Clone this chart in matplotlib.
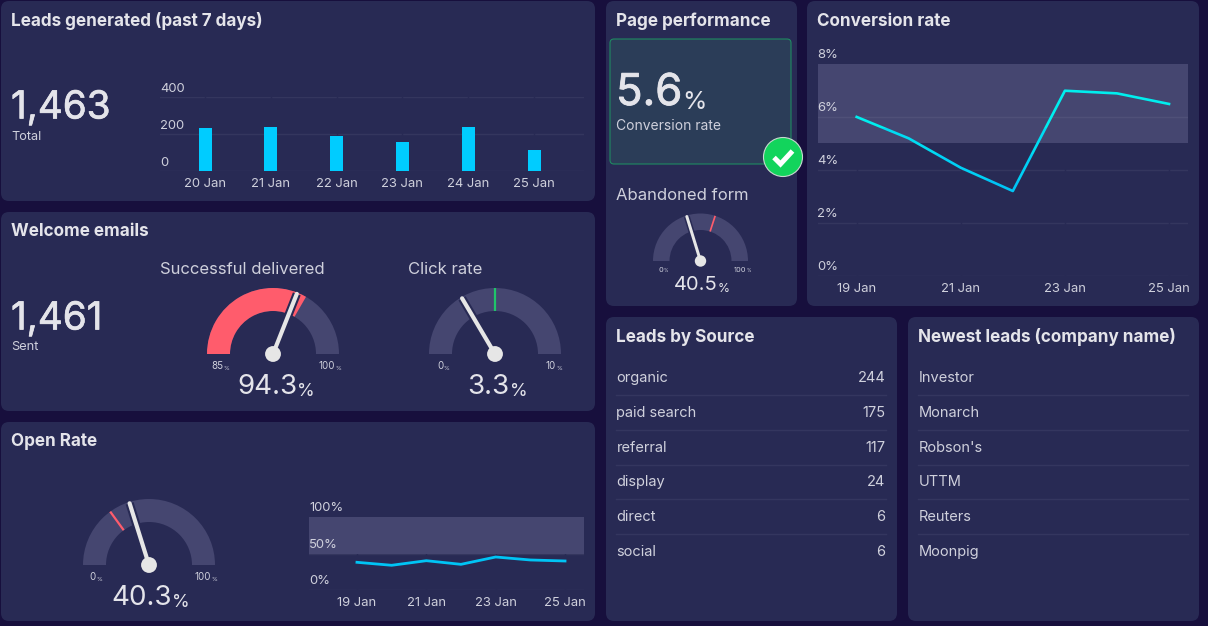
import numpy as np
import matplotlib
matplotlib.use("Agg")
import matplotlib.pyplot as plt
import matplotlib.patheffects as pe
from matplotlib.patches import FancyBboxPatch, Wedge, Circle, Rectangle

W, H = 1208, 626

BG = "#170f3d"
PANEL = "#282a54"
TRACK = "#454670"
TEXT = "#e4e4ea"
SOFT = "#cfd0dc"
RED = "#ff5c6c"
GREEN = "#1fc46a"
CYAN = "#00ccff"

plt.rcParams["font.family"] = ["Inter", "DejaVu Sans"]

leads_days = ["20 Jan", "21 Jan", "22 Jan", "23 Jan", "24 Jan", "25 Jan"]
leads_counts = [231, 236, 191, 155, 240, 115]
leads_ticks = [0, 200, 400]

rate_days = ["19 Jan", "20 Jan", "21 Jan", "22 Jan", "23 Jan", "24 Jan", "25 Jan"]
conversion_rate = [6.0, 5.19, 4.08, 3.2, 6.99, 6.89, 6.49]
conversion_ticks = [0, 2, 4, 6, 8]
conversion_band = (5, 8)

open_rate = [38.1, 34.0, 40.3, 35.3, 45.4, 41.3, 39.9]
open_ticks = [0, 50, 100]
open_band = (50, 100)

source_names = ["organic", "paid search", "referral", "display", "direct", "social"]
source_counts = [244, 175, 117, 24, 6, 6]
newest_leads = ["Investor", "Monarch", "Robson's", "UTTM", "Reuters", "Moonpig"]

fig = plt.figure(figsize=(W / 100, H / 100), dpi=100, facecolor=BG)

# whole-figure axes in pixel units, y pointing down
canvas = fig.add_axes([0, 0, 1, 1])
canvas.set_xlim(0, W)
canvas.set_ylim(H, 0)
canvas.axis("off")


def panel(x0, y0, x1, y1, title):
    canvas.add_patch(FancyBboxPatch((x0 + 8, y0 + 8), x1 - x0 - 16, y1 - y0 - 16,
                                    boxstyle="round,pad=8", fc=PANEL, ec="none", zorder=1))
    canvas.text(x0 + 10, y0 + 20, title, color=TEXT, fontsize=12.3, fontweight="bold",
                va="center", ha="left", zorder=5)


def big_number(x, y, value, size, unit=None, unit_size=None, gap=0, ha="left", stroke=0):
    t = canvas.text(x, y, value, color=TEXT, fontsize=size, va="center", ha=ha, zorder=5)
    if stroke:
        t.set_path_effects([pe.withStroke(linewidth=stroke, foreground=TEXT)])
    if unit:
        canvas.annotate(unit, xy=(1, 0), xycoords=t, xytext=(gap, 0), textcoords="offset pixels",
                        color=TEXT, fontsize=unit_size, va="bottom", ha="left", zorder=5)


def gauge(cx, cy, outer, inner, value, low, high, fill=None, mark=None, mark_color=None):
    def angle(v):
        return 180 - 180 * (v - low) / (high - low)

    # y axis is inverted, so the wedge angles are mirrored
    def arc(v0, v1, color):
        canvas.add_patch(Wedge((cx, cy), outer, -angle(v0), -angle(v1), width=outer - inner,
                               fc=color, ec="none", zorder=2))

    arc(low, high, TRACK)
    if fill is not None:
        arc(low, fill, RED)
    if mark is not None:
        a = np.radians(angle(mark))
        canvas.plot([cx + inner * np.cos(a), cx + outer * np.cos(a)],
                    [cy - inner * np.sin(a), cy - outer * np.sin(a)],
                    color=mark_color, lw=1.4 * outer / 66 + 0.2, zorder=3, solid_capstyle="butt")
    a = np.radians(angle(value))
    tip = (cx + outer * 0.98 * np.cos(a), cy - outer * 0.98 * np.sin(a))
    scale = outer / 66
    canvas.plot([cx, tip[0]], [cy, tip[1]], color=PANEL, lw=6 * scale, zorder=4, solid_capstyle="butt")
    canvas.plot([cx, tip[0]], [cy, tip[1]], color="#e6e6e6", lw=3.0 * scale, zorder=4, solid_capstyle="round")
    canvas.add_patch(Circle((cx, cy), outer * 0.12, fc="#e6e6e6", ec="none", zorder=4))


def gauge_scale(x, y, value, size=7):
    t = canvas.text(x, y, value, color=SOFT, fontsize=size, va="center", ha="center", zorder=5)
    canvas.annotate("%", xy=(1, 0), xycoords=t, xytext=(0, 0), textcoords="offset pixels",
                    color=SOFT, fontsize=size * 0.62, va="bottom", ha="left", zorder=5)


def chart_axes(x0, y0, x1, y1):
    ax = fig.add_axes([x0 / W, 1 - y1 / H, (x1 - x0) / W, (y1 - y0) / H])
    ax.patch.set_alpha(0)
    for s in ax.spines.values():
        s.set_visible(False)
    return ax


def finish_axes(ax, ticks, labels, tick_pos, tick_labels, band=None, raise_px=3):
    ax.set_yticks(ticks)
    ax.set_yticklabels([])
    for v, lab in zip(ticks, labels):
        ax.annotate(lab, (0, v), xycoords=("axes fraction", "data"), xytext=(0, raise_px),
                    textcoords="offset pixels", color=SOFT, fontsize=9.4, ha="left", va="bottom",
                    annotation_clip=False)
    ax.set_xticks(tick_pos)
    ax.set_xticklabels(tick_labels, color=SOFT, fontsize=9.4)
    ax.tick_params(axis="both", length=0)
    ax.tick_params(axis="x", pad=5)
    ax.grid(axis="y", color="white", alpha=0.06, lw=1)
    ax.set_axisbelow(True)
    # panel-coloured day lines nick the grid but stay hidden behind the band
    for x in tick_pos:
        ax.axvline(x, color=PANEL, lw=1, zorder=1)
    if band:
        ax.axhspan(*band, color=TRACK, lw=0, zorder=2)
        for v in ticks:
            if band[0] < v < band[1]:
                ax.axhline(v, color="white", alpha=0.06, lw=1, zorder=2.5)


panel(1, 1, 595, 201, "Leads generated (past 7 days)")
panel(1, 212, 595, 411, "Welcome emails")
panel(1, 422, 595, 621, "Open Rate")
panel(606, 1, 797, 306, "Page performance")
panel(807, 1, 1199, 306, "Conversion rate")
panel(606, 317, 897, 621, "Leads by Source")
panel(908, 317, 1199, 621, "Newest leads (company name)")

# leads bars
big_number(11, 108.5, "1,463", 27.8, stroke=0.5)
canvas.text(11.5, 137.5, "Total", color=SOFT, fontsize=9.2, va="center", zorder=5)
ax = chart_axes(160, 97.3, 584, 170.7)
pos = np.arange(len(leads_days))
ax.bar(pos, leads_counts, width=13 / 65.8, color=CYAN, zorder=3)
ax.set_xlim(-45 / 65.8, 5 + 50 / 65.8)
ax.set_ylim(0, 400)
finish_axes(ax, leads_ticks, [str(v) for v in leads_ticks], pos, leads_days, raise_px=2)

# welcome emails
big_number(11, 319.5, "1,461", 27.8, stroke=0.5)
canvas.text(11.5, 347.5, "Sent", color=SOFT, fontsize=9.2, va="center", zorder=5)
canvas.text(160, 269, "Successful delivered", color=SOFT, fontsize=12, va="center", zorder=5)
canvas.text(408, 269, "Click rate", color=SOFT, fontsize=12, va="center", zorder=5)
gauge(273, 354, 66, 43, 94.3, 85, 100, fill=95)
gauge_scale(217, 366, "85")
gauge_scale(327, 366, "100")
big_number(267, 387.5, "94.3", 20, "%", 13, 0, ha="center")
gauge(495, 354, 66, 43, 3.3, 0, 10, mark=5, mark_color=GREEN)
gauge_scale(440, 366, "0")
gauge_scale(551, 366, "10")
big_number(488.5, 387.5, "3.3", 20, "%", 13, 0, ha="center")

# open rate
gauge(149, 565, 66, 43, 40.3, 0, 100, mark=30, mark_color=RED)
gauge_scale(93, 577, "0")
gauge_scale(203, 577, "100")
big_number(141.5, 598, "40.3", 20, "%", 13, 0, ha="center")

pos = np.arange(len(rate_days))
ax = chart_axes(309, 517.3, 584, 590)
ax.plot(pos, open_rate, color="#00c4f5", lw=2, zorder=3)
ax.set_xlim(-48 / 34.7, 6 + 19 / 34.7)
ax.set_ylim(0, 100)
finish_axes(ax, open_ticks, [f"{v}%" for v in open_ticks], pos[::2], rate_days[::2], band=open_band)

# page performance
canvas.add_patch(FancyBboxPatch((614, 43), 173, 117, boxstyle="round,pad=4", fc="#2b3d58",
                                ec="#1f8a62", lw=0.8, zorder=2))
big_number(616, 93.5, "5.6", 31.5, "%", 18, 0, stroke=0.6)
canvas.text(616.5, 125.5, "Conversion rate", color=SOFT, fontsize=10, va="center", zorder=5)
canvas.add_patch(Circle((783, 157), 19.5, fc="#12d45c", ec="#c8d8d0", lw=0.8, zorder=6))
canvas.plot([774, 780.5, 792.5], [157.5, 164, 151], color="white", lw=3.6, zorder=7,
            solid_capstyle="butt", solid_joinstyle="miter")
canvas.text(616.5, 195, "Abandoned form", color=SOFT, fontsize=12, va="center", zorder=5)
gauge(700.5, 261, 47.5, 31, 40.5, 0, 100, mark=60, mark_color=RED)
gauge_scale(661, 270, "0", size=5.4)
gauge_scale(740, 270, "100", size=5.4)
big_number(696, 285.5, "40.5", 14.5, "%", 8.8, 0, ha="center")

# conversion rate line, colour shifts from blue to cyan with height
ax = chart_axes(817.5, 64, 1187.7, 275.7)
line_bands = [(0, 3.6, "#00c4f5"), (3.6, 4.6, "#00d0f5"), (4.6, 5.6, "#00dcf2"), (5.6, 8, "#00eeee")]
for lo, hi, col in line_bands:
    ln, = ax.plot(pos, conversion_rate, color=col, lw=1.9, zorder=3)
    ln.set_clip_path(Rectangle((-2, lo), 10, hi - lo, transform=ax.transData))
ax.set_xlim(-39.2 / 52.1, 6 + 18.7 / 52.1)
ax.set_ylim(0, 8)
finish_axes(ax, conversion_ticks, [f"{v}%" for v in conversion_ticks], pos[::2], rate_days[::2],
            band=conversion_band)

# list panels
row_y = [378, 413, 448, 482, 517, 552]
for i, (name, count, lead, y) in enumerate(zip(source_names, source_counts, newest_leads, row_y)):
    canvas.text(616.5, y, name, color=SOFT, fontsize=10.5, va="center", zorder=5)
    canvas.text(885.5, y, str(count), color=SOFT, fontsize=10.5, va="center", ha="right", zorder=5)
    canvas.text(918.5, y, lead, color=SOFT, fontsize=10.5, va="center", zorder=5)
    if i < len(row_y) - 1:
        sep = y + 16.5
        canvas.plot([616, 886], [sep, sep], color="#34365f", lw=1, zorder=3)
        canvas.plot([918, 1188], [sep, sep], color="#34365f", lw=1, zorder=3)

fig.savefig("out.png", dpi=100, facecolor=BG)
